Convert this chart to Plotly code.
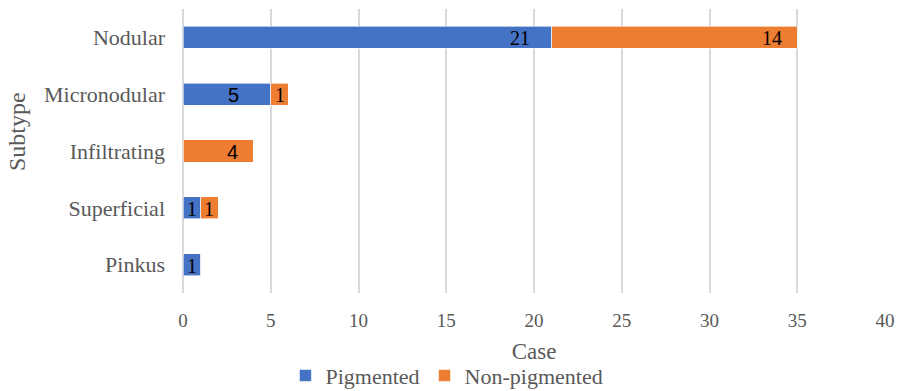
import plotly.graph_objects as go

categories = ["Nodular", "Micronodular", "Infiltrating", "Superficial", "Pinkus"]
pigmented = [21, 5, 0, 1, 1]
non_pigmented = [14, 1, 4, 1, 0]
x_ticks = [0, 5, 10, 15, 20, 25, 30, 35, 40]

SERIF = "Liberation Serif"
SANS = "Liberation Sans"

# label styling (placement offsets in px, font) per segment: (series, category index)
label_style = {
    ("p", 0): dict(mode="end", shift=-20, font=SERIF),
    ("p", 1): dict(mode="end", shift=-30, font=SANS),
    ("p", 3): dict(mode="mid", shift=0, font=SERIF),
    ("p", 4): dict(mode="mid", shift=0, font=SERIF),
    ("n", 0): dict(mode="end", shift=-13, font=SERIF),
    ("n", 1): dict(mode="mid", shift=0, font=SERIF),
    ("n", 2): dict(mode="end", shift=-13, font=SANS),
    ("n", 3): dict(mode="mid", shift=0, font=SERIF),
}

fig = go.Figure()
fig.add_trace(go.Bar(
    y=categories, x=pigmented, name="Pigmented", orientation="h",
    marker=dict(color="#4472C4", line=dict(color="rgba(255,255,255,0.6)", width=1)),
    width=0.39,
))
fig.add_trace(go.Bar(
    y=categories, x=non_pigmented, name="Non-pigmented", orientation="h",
    marker=dict(color="#ED7D31", line=dict(color="rgba(255,255,255,0.6)", width=1)),
    width=0.39,
))

for i, cat in enumerate(categories):
    segs = [("p", 0, pigmented[i]), ("n", pigmented[i], non_pigmented[i])]
    for key, start, val in segs:
        if not val:
            continue
        st = label_style.get((key, i), dict(mode="mid", shift=0, font=SERIF))
        end = start + val
        if st["mode"] == "end":
            fig.add_annotation(x=end, y=cat, text=str(val), showarrow=False,
                               xanchor="right", xshift=st["shift"], yshift=-1,
                               font=dict(family=st["font"], size=20, color="black"))
        else:
            fig.add_annotation(x=start + val / 2, y=cat, text=str(val), showarrow=False,
                               xanchor="center", yshift=-1,
                               font=dict(family=st["font"], size=20, color="black"))

# y-axis title (placed slightly above centre as in the reference)
fig.add_annotation(text="Subtype", textangle=-90, showarrow=False,
                   xref="paper", yref="paper", x=0, y=0.5,
                   xanchor="center", yanchor="middle", xshift=-166, yshift=19,
                   font=dict(family=SERIF, size=24, color="#595959"))

fig.update_layout(
    width=900, height=391,
    barmode="stack",
    plot_bgcolor="white", paper_bgcolor="white",
    margin=dict(l=183, r=15, t=9, b=98, autoexpand=False),
    font=dict(family=SERIF, color="#595959", size=20),
    showlegend=True,
    legend=dict(orientation="h", x=0.376, xanchor="center", y=-0.217, yanchor="top",
                font=dict(family=SERIF, size=22, color="#595959"), traceorder="normal",
                itemwidth=30, tracegroupgap=0),
)
fig.update_xaxes(
    range=[0, 40], tickvals=x_ticks, showgrid=True, gridcolor="#D9D9D9", gridwidth=2,
    zeroline=True, zerolinecolor="#D9D9D9", zerolinewidth=2, automargin=False,
    showline=False, ticks="", ticklabelstandoff=14,
    title=dict(text="Case", font=dict(family=SERIF, size=23, color="#595959"), standoff=12),
    tickfont=dict(family=SERIF, size=19, color="#595959"),
)
fig.update_yaxes(
    categoryorder="array", categoryarray=categories[::-1], automargin=False,
    range=[-0.5, 4.5], showgrid=False, zeroline=False, showline=False, ticks="",
    ticklabelstandoff=17,
    tickfont=dict(family=SERIF, size=22, color="#595959"),
)

fig.write_html("out.html")
